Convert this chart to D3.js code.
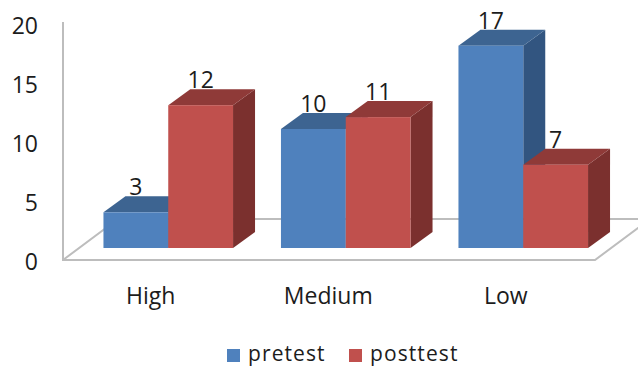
<!DOCTYPE html>
<html>
<head>
<meta charset="utf-8">
<script src="https://cdn.jsdelivr.net/npm/d3@7"></script>
<style>
  html, body { margin: 0; padding: 0; background: #fff; }
  svg { display: block; }
  text { font-family: "Open Sans", sans-serif; fill: #1c1c1c; }
</style>
</head>
<body>
<svg id="chart" width="638" height="367"></svg>
<script>
const categories = ["High", "Medium", "Low"];
const seriesNames = ["pretest", "posttest"];
const pretest = [3, 10, 17];
const posttest = [12, 11, 7];
const yTicks = [0, 5, 10, 15, 20];

const palette = {
  pretest: { front: "#4f81bd", top: "#3d6491", side: "#325580" },
  posttest: { front: "#c0504d", top: "#8f3a38", side: "#7b302e" }
};

const svg = d3.select("#chart");
const W = 638, H = 367;
const fontSize = 23;
const legendFontSize = 21;

// 3D projection offsets for the bar bodies and the floor plate
const barDepth = { x: 22, y: -16 };
const floorDepth = { x: 55, y: -41 };
const floorFront = { left: 63, right: 595, y: 260 };

const y = d3.scaleLinear().domain([0, 20]).range([248, 10]);
const yLabels = d3.scaleLinear().domain([0, 20]).range([262, 26]);
const x0 = d3.scaleBand().domain(categories).range([79.5, 612]).paddingInner(0.27).paddingOuter(0.135);
const x1 = d3.scaleBand().domain(seriesNames).range([0, x0.bandwidth()]);

// Clip keeps the floor plate inside the canvas on the right
svg.append("defs").append("clipPath").attr("id", "page")
  .append("rect").attr("width", W).attr("height", H);

const floor = svg.append("g").attr("clip-path", "url(#page)")
  .attr("fill", "none").attr("stroke", "#bdbdbd").attr("stroke-width", 2);

const floorPath = d3.path();
floorPath.moveTo(floorFront.left, 22);
floorPath.lineTo(floorFront.left, floorFront.y);
floorPath.lineTo(floorFront.right, floorFront.y);
floorPath.lineTo(floorFront.right + floorDepth.x, floorFront.y + floorDepth.y);
floorPath.lineTo(floorFront.left + floorDepth.x, floorFront.y + floorDepth.y);
floorPath.lineTo(floorFront.left, floorFront.y);
floor.append("path").attr("d", floorPath.toString());

const poly = pts => d3.line()(pts) + "Z";

// Bars left to right so nearer faces paint over hidden sides
const rows = categories.flatMap((c, i) => [
  { cat: c, key: "pretest", value: pretest[i] },
  { cat: c, key: "posttest", value: posttest[i] }
]);

const bars = svg.append("g").selectAll("g").data(rows).join("g");

bars.each(function (d) {
  const g = d3.select(this);
  const left = x0(d.cat) + x1(d.key);
  const right = left + x1.bandwidth();
  const top = y(d.value);
  const base = y(0);
  const c = palette[d.key];
  g.append("path").attr("fill", c.side).attr("d", poly([
    [right, top], [right + barDepth.x, top + barDepth.y],
    [right + barDepth.x, base + barDepth.y], [right, base]
  ]));
  g.append("path").attr("fill", c.top).attr("d", poly([
    [left, top], [left + barDepth.x, top + barDepth.y],
    [right + barDepth.x, top + barDepth.y], [right, top]
  ]));
  g.append("rect").attr("x", left).attr("y", top)
    .attr("width", x1.bandwidth()).attr("height", base - top).attr("fill", c.front);
});

// Value labels above each bar
svg.append("g").selectAll("text").data(rows).join("text")
  .attr("x", d => x0(d.cat) + x1(d.key) + x1.bandwidth() / 2)
  .attr("y", d => y(d.value) - 25)
  .attr("dy", "0.35em")
  .attr("text-anchor", "middle")
  .attr("font-size", fontSize)
  .text(d => d.value);

// Value axis: labels only, the wall line is part of the floor path
const yAxis = svg.append("g").attr("transform", "translate(38,0)")
  .call(d3.axisLeft(yLabels).tickValues(yTicks).tickSize(0).tickPadding(0));
yAxis.select(".domain").remove();
yAxis.attr("font-family", null).attr("font-size", null);
yAxis.selectAll("text").attr("font-size", fontSize);

// Category labels sit under the floor, shifted left of the group centre
const xAxis = svg.append("g").attr("transform", "translate(-17.5,296)")
  .call(d3.axisBottom(x0).tickSize(0).tickPadding(0));
xAxis.select(".domain").remove();
xAxis.attr("font-family", null).attr("font-size", null);
xAxis.selectAll("text").attr("font-size", fontSize).attr("y", 0).attr("dy", "0.35em");

// Legend: tracked out a little, baseline kept clear of the bottom edge
const legendX = d3.scaleOrdinal().domain(seriesNames).range([227, 349]);
const legend = svg.append("g").selectAll("g").data(seriesNames).join("g")
  .attr("transform", d => `translate(${legendX(d)},349)`);
legend.append("rect").attr("width", 13).attr("height", 13).attr("fill", d => palette[d].front);
legend.append("text").attr("x", 21).attr("y", 11.7)
  .attr("font-size", legendFontSize).attr("letter-spacing", 1.1).text(d => d);
</script>
</body>
</html>
